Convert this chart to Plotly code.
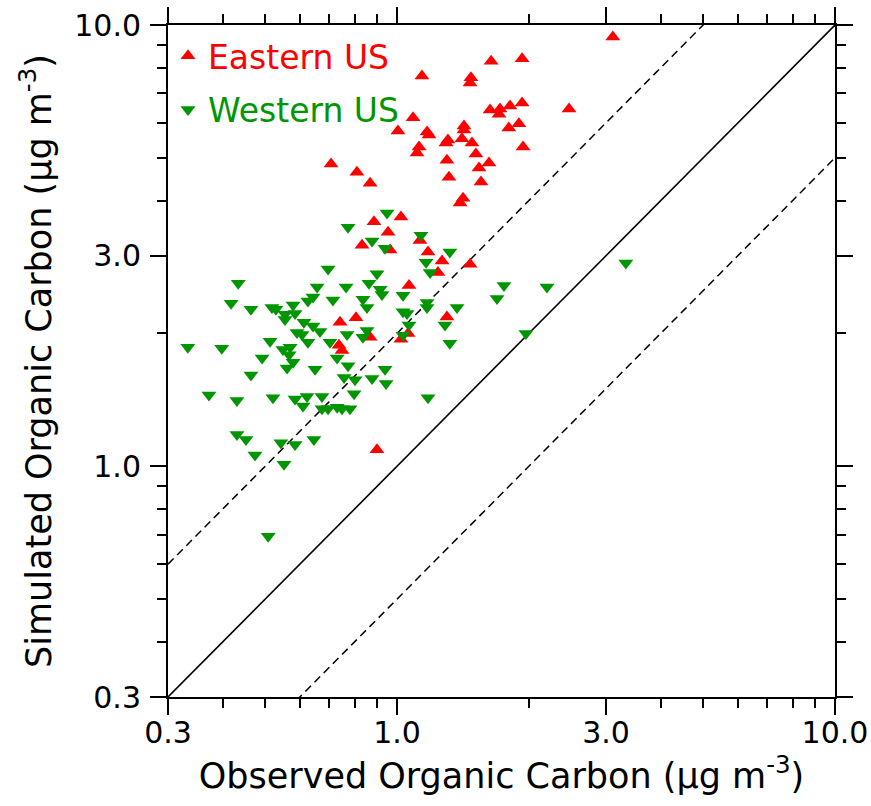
import plotly.graph_objects as go

# ---------------- data ----------------
east_obs = [3.11, 1.64, 1.93, 1.14, 1.475, 1.468, 1.088, 1.631, 1.718, 1.71,
            1.811, 1.93, 2.47, 1.005, 1.171, 1.183, 1.422, 1.422, 1.80, 1.898,
            1.307, 1.294, 1.407, 1.483, 1.123, 1.111, 1.514, 1.94, 1.30, 1.622,
            1.539, 1.314, 1.555, 0.707, 0.81, 0.868, 1.415, 1.393, 1.021, 0.886,
            0.954, 0.832, 0.964, 1.128, 1.177, 1.267, 1.468, 1.24, 1.065, 0.741,
            0.806, 0.868, 0.737, 0.749, 1.30, 1.06, 1.021, 0.90]
east_sim = [9.39, 8.28, 8.38, 7.66, 7.59, 7.39, 6.16, 6.42, 6.45, 6.28,
            6.55, 6.66, 6.45, 5.75, 5.72, 5.63, 5.90, 5.78, 5.84, 5.97,
            5.49, 5.40, 5.52, 5.40, 5.29, 5.13, 5.10, 5.29, 4.94, 4.87,
            4.74, 4.52, 4.41, 4.84, 4.64, 4.38, 4.05, 3.95, 3.67, 3.58,
            3.39, 3.17, 3.09, 3.25, 3.06, 2.92, 2.87, 2.75, 2.57, 2.12,
            2.17, 1.96, 1.88, 1.83, 2.18, 2.00, 1.94, 1.09]

west_obs = [0.949, 0.773, 0.877, 0.939, 0.696, 0.90, 0.434, 0.657, 0.765, 0.863,
            0.915, 0.924, 0.418, 0.643, 0.626, 0.714, 0.836, 0.854, 0.464, 0.518,
            0.529, 0.579, 0.555, 0.555, 0.585, 0.613, 0.643, 0.667, 0.591, 0.607,
            0.626, 0.513, 0.703, 0.769, 0.836, 0.854, 0.333, 0.398, 0.549, 0.57,
            0.567, 0.579, 0.561, 0.492, 0.73, 0.65, 0.773, 0.464, 0.757, 0.802,
            0.877, 0.939, 0.944, 0.372, 0.431, 0.521, 0.585, 0.623, 0.61, 0.674,
            0.798, 0.674, 0.696, 0.73, 0.749, 0.781, 0.431, 0.452, 0.474, 0.543,
            0.585, 0.646, 0.552, 0.508, 1.177, 1.134, 1.32, 1.165, 1.19, 1.755,
            2.20, 3.33, 1.032, 1.692, 1.171, 1.171, 1.371, 1.032, 1.054, 1.287,
            1.065, 1.032, 1.32, 1.97]
west_sim = [3.75, 3.48, 3.24, 3.12, 2.80, 2.73, 2.60, 2.55, 2.55, 2.60,
            2.52, 2.45, 2.34, 2.42, 2.37, 2.38, 2.39, 2.29, 2.27, 2.29,
            2.27, 2.32, 2.21, 2.15, 2.22, 2.12, 2.08, 2.02, 2.01, 1.99,
            1.91, 1.92, 1.91, 1.99, 1.96, 2.03, 1.86, 1.85, 1.84, 1.86,
            1.79, 1.72, 1.67, 1.76, 1.76, 1.66, 1.69, 1.61, 1.59, 1.57,
            1.58, 1.66, 1.54, 1.45, 1.41, 1.43, 1.42, 1.44, 1.37, 1.44,
            1.46, 1.35, 1.35, 1.36, 1.35, 1.35, 1.18, 1.15, 1.06, 1.13,
            1.12, 1.15, 1.01, 0.694, 1.43, 3.34, 3.06, 2.90, 2.75, 2.57,
            2.55, 2.89, 2.44, 2.40, 2.35, 2.29, 2.29, 2.24, 2.22, 2.09,
            2.09, 1.98, 1.90, 2.00]

series_names = ["Eastern US", "Western US"]
axis_range = [0.3, 10.0]
tick_vals = [0.3, 1.0, 3.0, 10.0]
tick_text = ["0.3", "1.0", "3.0", "10.0"]
minor_vals = [0.4, 0.5, 0.6, 0.7, 0.8, 0.9, 2, 3, 4, 5, 6, 7, 8, 9]
ratio_factors = [1.0, 2.0, 0.5]

RED = "#ff0000"
GREEN = "#009600"
FONT = "DejaVu Sans"

fig = go.Figure()

# reference lines 1:1, 2:1, 1:2
for f in ratio_factors:
    fig.add_trace(go.Scatter(
        x=axis_range, y=[v * f for v in axis_range], mode="lines",
        line=dict(color="black", width=1.6 if f == 1.0 else 1.5,
                  dash="solid" if f == 1.0 else "8px,5px"),
        showlegend=False, hoverinfo="skip"))

fig.add_trace(go.Scatter(
    x=east_obs, y=east_sim, mode="markers",
    name=f"<span style='color:{RED}'>{series_names[0]}</span>",
    legendgroup="e",
    marker=dict(symbol="triangle-up", size=13, color=RED, line=dict(width=0))))
fig.add_trace(go.Scatter(
    x=west_obs, y=west_sim, mode="markers",
    name=f"<span style='color:{GREEN}'>{series_names[1]}</span>",
    legendgroup="w",
    marker=dict(symbol="triangle-down", size=13, color=GREEN, line=dict(width=0))))

axis_common = dict(
    type="log",
    range=[-0.5228787, 1.0],
    tickvals=tick_vals, ticktext=tick_text,
    ticks="outside", ticklen=16, tickwidth=1.5, tickcolor="black",
    showline=True, linecolor="black", linewidth=2, mirror="allticks",
    showgrid=False, zeroline=False, automargin=False,
    tickfont=dict(family=FONT, size=30, color="black"),
    minor=dict(tickvals=minor_vals, ticks="outside", ticklen=9,
               tickwidth=1.5, tickcolor="black", showgrid=False),
)

fig.update_xaxes(**axis_common, ticklabelstandoff=-8,
                 title=dict(text="Observed Organic Carbon (µg m<sup>-3</sup>)",
                            font=dict(family=FONT, size=35, color="black"),
                            standoff=12))
fig.update_yaxes(**axis_common, ticklabelstandoff=3,
                 title=dict(text="Simulated Organic Carbon (µg m<sup>-3</sup>)",
                            font=dict(family=FONT, size=35, color="black"),
                            standoff=12))

fig.update_layout(
    width=871, height=806,
    margin=dict(l=168, r=36, t=25, b=109),
    paper_bgcolor="white", plot_bgcolor="white",
    legend=dict(x=0.0, y=0.996, xanchor="left", yanchor="top",
                bgcolor="rgba(0,0,0,0)", borderwidth=0,
                font=dict(family=FONT, size=33),
                tracegroupgap=8,
                itemsizing="trace"),
)

fig.write_html("out.html")
